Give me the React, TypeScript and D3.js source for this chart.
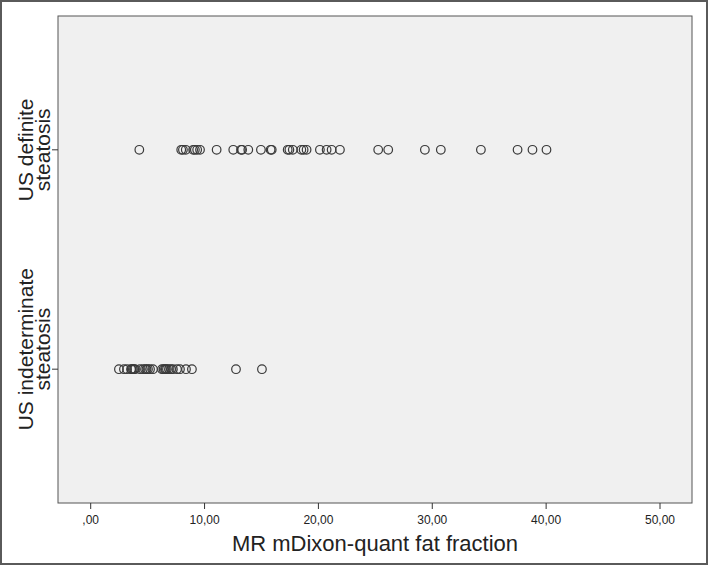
import React from "react";
import * as d3 from "d3";

const categories = ["US definite steatosis", "US indeterminate steatosis"];
const categoryLines = [["US definite", "steatosis"], ["US indeterminate", "steatosis"]];

const definiteValues = [
  4.27, 7.95, 8.1, 8.35, 9.0, 9.15, 9.35, 9.6, 11.06, 12.52, 13.2, 13.3, 13.84,
  14.95, 15.8, 15.9, 17.3, 17.45, 17.75, 18.5, 18.7, 18.96, 20.13, 20.72, 21.16,
  21.89, 25.25, 26.13, 29.35, 30.75, 34.27, 37.49, 38.8, 40.03,
];

const indeterminateValues = [
  2.48, 2.92, 3.19, 3.54, 3.6, 3.71, 3.8, 3.89, 4.33, 4.59, 4.77, 4.9, 5.03, 5.21,
  5.47, 6.26, 6.4, 6.52, 6.6, 6.7, 6.87, 7.05, 7.22, 7.58, 7.84, 8.37, 8.89, 12.76,
  15.04,
];

const xTicks = [0, 10, 20, 30, 40, 50];
const xTitle = "MR mDixon-quant fat fraction";

const W = 709;
const H = 566;
const plot = { left: 58, right: 692, top: 16, bottom: 503 };

export default function App() {
  const x = d3.scaleLinear().domain([0, 50]).range([90.7, 660]);
  const y = d3
    .scalePoint<string>()
    .domain(categories)
    .range([plot.top, plot.bottom])
    .padding(0.61);

  const fmt = (v: number) => (v === 0 ? ",00" : d3.format(".2f")(v).replace(".", ","));
  const series = [definiteValues, indeterminateValues];
  const font = "'Liberation Sans', Arial, sans-serif";

  return (
    <div style={{ position: "absolute", left: 0, top: 0 }}>
      <svg width={W} height={H} style={{ display: "block" }}>
        <rect x={0} y={0} width={W} height={H} fill="#ffffff" />
        <rect x={1} y={1} width={W - 3} height={H - 3} fill="none" stroke="#5a5a5a" strokeWidth={2} />
        <rect
          x={plot.left}
          y={plot.top}
          width={plot.right - plot.left}
          height={plot.bottom - plot.top}
          fill="#f0f0f0"
          stroke="#555"
          strokeWidth={1}
        />
        {xTicks.map((t) => (
          <g key={t}>
            <line x1={x(t)} x2={x(t)} y1={plot.bottom} y2={plot.bottom + 6} stroke="#333" strokeWidth={1} />
            <text
              x={x(t)}
              y={plot.bottom + 21}
              textAnchor="middle"
              fontFamily={font}
              fontSize={12}
              fill="#222"
            >
              {fmt(t)}
            </text>
          </g>
        ))}
        <text
          x={(plot.left + plot.right) / 2}
          y={551}
          textAnchor="middle"
          fontFamily={font}
          fontSize={22}
          fill="#222"
        >
          {xTitle}
        </text>
        {categories.map((c, i) => {
          const cy = y(c) as number;
          return (
            <g key={c}>
              <line x1={plot.left - 6} x2={plot.left} y1={cy} y2={cy} stroke="#333" strokeWidth={1} />
              {categoryLines[i].map((ln, j) => (
                <text
                  key={j}
                  transform={`translate(${33 + j * 17},${cy - (i === 0 ? 0 : 20)}) rotate(-90)`}
                  textAnchor="middle"
                  fontFamily={font}
                  fontSize={21}
                  fill="#222"
                >
                  {ln}
                </text>
              ))}
              {series[i].map((v, k) => (
                <circle
                  key={k}
                  cx={x(v)}
                  cy={cy}
                  r={4.3}
                  fill="none"
                  stroke="#3a3a3a"
                  strokeWidth={1.2}
                />
              ))}
            </g>
          );
        })}
      </svg>
    </div>
  );
}
